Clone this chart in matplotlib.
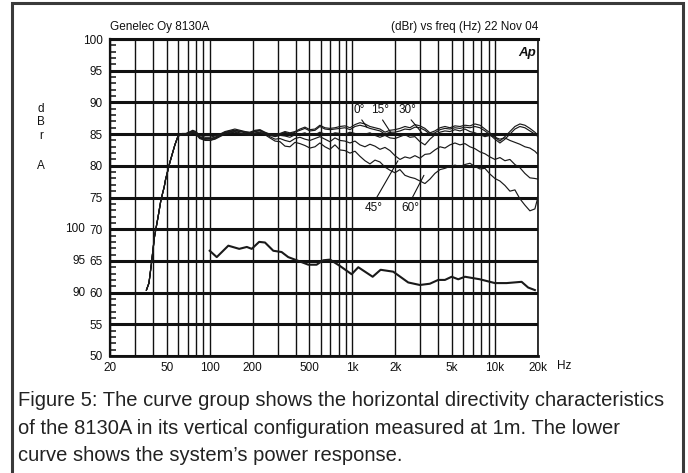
import matplotlib
matplotlib.use('Agg')
import matplotlib.pyplot as plt
from matplotlib.patches import Rectangle

plt.rcParams['font.family'] = ['Liberation Sans', 'DejaVu Sans']

# ---------------- data ----------------
freq = [36, 37.5, 39, 41, 43.5, 45.5, 48, 49, 52.5, 57,
        60, 64, 68, 73, 76, 80, 85, 93, 100, 109,
        118, 128, 139, 150, 163, 177, 191, 208, 225,
        244, 264, 287, 311, 337, 365, 396, 429, 465, 504,
        547, 592, 642, 696, 755, 818, 887, 962, 1043, 1130,
        1225, 1328, 1440, 1561, 1692, 1834, 1988, 2155, 2336, 2532,
        2745, 2975, 3225, 3496, 3790, 4110, 4455, 4830, 5236, 5676,
        6152, 6669, 7229, 7835, 8493, 9206, 9980, 10818, 11726, 12710,
        13777, 14934, 16188, 17547, 19020, 20000]

rolloff = [60.4, 61.5, 64.5, 68.8, 72.0, 74.6, 76.7, 77.8, 80.5, 83.3, 84.7]

deg0 = rolloff + [85.1, 85.1, 85.4, 85.6, 85.4, 84.8, 84.5, 84.5, 84.7, 85.0, 85.4, 85.6, 85.8, 85.6, 85.4, 85.3, 85.6, 85.7,
                  85.3, 85.0, 84.9, 85.1, 85.4, 85.2, 85.4, 85.8, 86.1, 85.7,
                  85.8, 86.4, 86.0, 85.9, 86.0, 86.2, 86.3, 86.0, 86.5, 86.8,
                  86.6, 86.2, 86.0, 85.8, 85.3, 85.6, 85.7, 85.9, 86.2, 86.0,
                  86.5, 86.3, 85.9, 85.2, 85.5, 86.0, 86.2, 86.0, 86.3, 86.2,
                  86.4, 86.3, 86.6, 86.4, 85.8, 85.2, 84.5, 83.9, 84.6, 85.4,
                  86.2, 86.6, 86.4, 85.9, 85.3, 84.8]
deg15 = rolloff + [85.0, 85.0, 85.3, 85.5, 85.3, 84.6, 84.3, 84.3, 84.5, 84.9, 85.3, 85.5, 85.6, 85.5, 85.3, 85.2, 85.5, 85.6,
                   85.2, 84.9, 84.8, 85.0, 85.3, 85.0, 85.3, 85.6, 85.9, 85.5,
                   85.6, 86.2, 85.8, 85.7, 85.8, 85.9, 86.0, 85.7, 86.2, 86.4,
                   86.2, 85.9, 85.7, 85.5, 85.0, 85.3, 85.3, 85.5, 85.8, 85.7,
                   86.1, 86.0, 85.6, 85.0, 85.2, 85.7, 85.9, 85.8, 86.0, 85.9,
                   86.1, 86.0, 86.2, 86.0, 85.5, 84.9, 84.2, 83.6, 84.2, 85.0,
                   85.8, 86.2, 86.0, 85.5, 85.0, 84.6]
deg30 = rolloff + [84.9, 85.0, 85.2, 85.4, 85.2, 84.5, 84.2, 84.2, 84.4, 84.8, 85.2, 85.4, 85.5, 85.4, 85.2, 85.1, 85.4, 85.5,
                   85.1, 84.8, 84.6, 84.8, 84.7, 84.5, 84.9, 85.0, 85.2, 84.8,
                   84.9, 85.3, 85.0, 84.9, 85.2, 85.1, 85.0, 85.3, 85.1, 84.9,
                   85.0, 85.2, 84.8, 84.5, 84.8, 84.4, 84.3, 84.6, 84.9, 84.5,
                   84.6, 83.8, 83.3, 84.2, 84.9, 85.3, 85.5, 85.4, 85.7, 85.5,
                   85.8, 85.4, 85.2, 84.9, 84.6, 84.8, 84.5, 84.2, 84.4, 84.0,
                   83.7, 83.4, 83.0, 82.8, 82.3, 81.8]
deg45 = rolloff + [85.0, 84.9, 85.1, 85.3, 85.1, 84.4, 84.1, 84.0, 84.3, 84.7, 85.1, 85.3, 85.4, 85.2, 85.0, 84.9, 85.2, 85.3,
                   85.0, 84.6, 84.2, 84.3, 84.0, 83.8, 84.3, 84.5, 84.2, 84.0,
                   84.3, 84.6, 84.2, 83.8, 84.4, 84.0, 83.9, 83.6, 83.9, 83.3,
                   83.0, 83.4, 83.1, 82.6, 82.9, 82.4, 81.6, 81.0, 81.4, 81.2,
                   81.6, 81.2, 81.8, 81.9, 82.5, 83.0, 82.8, 83.3, 83.6, 83.3,
                   83.5, 83.0, 82.7, 82.2, 81.9, 81.4, 81.0, 81.3, 80.8, 81.0,
                   80.2, 79.7, 78.8, 78.1, 78.0, 77.9]
deg60 = rolloff + [84.9, 84.9, 85.0, 85.2, 85.0, 84.3, 84.0, 84.0, 84.2, 84.6, 85.0, 85.2, 85.3, 85.1, 84.9, 84.8, 85.1, 85.2,
                   84.9, 84.4, 83.9, 83.8, 83.1, 83.0, 83.7, 83.5, 83.2, 82.8,
                   83.0, 83.6, 83.0, 82.6, 83.3, 82.5, 82.4, 82.0, 82.3, 81.5,
                   80.8, 80.3, 80.9, 80.6, 79.8, 79.3, 78.9, 79.4, 78.5, 78.2,
                   78.0, 77.6, 77.2, 77.9, 78.8, 79.4, 79.6, 79.9, 80.1, 79.9,
                   80.2, 80.4, 79.9, 79.5, 79.6, 78.7, 78.0, 77.6, 76.9, 76.0,
                   76.2, 74.8, 73.8, 72.9, 73.2, 75.1]

power_freq = [100, 112, 135, 161, 182, 197, 222, 244, 279, 319, 355, 407, 491, 561, 625, 697,
              818, 988, 1100, 1387, 1577, 1933, 2462, 2972, 3492, 3996, 4452, 4966, 5521, 6152,
              7834, 9980, 12050, 15350, 17060, 19010]
power_db = [66.6, 65.6, 67.4, 66.9, 67.2, 66.9, 68.0, 67.9, 66.6, 66.4, 65.6, 65.1, 64.4, 64.4, 65.1, 65.2,
            64.2, 62.9, 64.0, 62.5, 63.6, 63.3, 61.6, 61.2, 61.4, 62.0, 62.0, 62.5, 62.1, 62.5,
            62.1, 61.5, 61.5, 61.7, 60.8, 60.4]

x_major = [20, 50, 100, 200, 500, 1000, 2000, 5000, 10000, 20000]
x_major_labels = ['20', '50', '100', '200', '500', '1k', '2k', '5k', '10k', '20k']
x_minor = [30, 40, 60, 70, 80, 90, 300, 400, 600, 700, 800, 900,
           3000, 4000, 6000, 7000, 8000, 9000]
y_major = [50, 55, 60, 65, 70, 75, 80, 85, 90, 95, 100]
power_scale_pos = [70, 65, 60]
power_scale_labels = ['100', '95', '90']

angle_labels = ['0°', '15°', '30°', '45°', '60°']
angle_text_pos = [(1112, 88.8), (1561, 88.8), (2450, 88.8), (1416, 73.3), (2530, 73.3)]
angle_point = [(1265, 86.1), (1863, 85.2), (3070, 85.2), (2086, 80.8), (3172, 78.5)]

caption_lines = ["Figure 5: The curve group shows the horizontal directivity characteristics",
                 "of the 8130A in its vertical configuration measured at 1m. The lower",
                 "curve shows the system\u2019s power response."]

# ---------------- figure ----------------
W, H = 688, 473
fig = plt.figure(figsize=(W / 100, H / 100), dpi=100)
fig.patch.set_facecolor('white')


def fx(px):
    return px / W


def fy(py):
    return 1 - py / H


ax = fig.add_axes([fx(110), fy(356), fx(538) - fx(110), fy(39) - fy(356)])
ax.set_xscale('log')
ax.set_xlim(20, 20000)
ax.set_ylim(50, 100)

ink = '#111111'
ax.set_xticks(x_major)
ax.set_xticklabels(x_major_labels)
ax.set_xticks(x_minor, minor=True)
ax.set_xticklabels([], minor=True)
ax.set_yticks(y_major)
ax.set_yticks(range(50, 101), minor=True)
ax.tick_params(axis='x', which='both', length=0, pad=4, labelsize=8.5, colors=ink)
ax.tick_params(axis='y', which='major', length=0, pad=5, labelsize=8.5, colors=ink)
ax.tick_params(axis='y', which='minor', direction='in', length=4, width=1.1, color=ink)
ax.tick_params(axis='y', which='both', right=False)

ax.grid(True, axis='x', which='both', color=ink, lw=1.0)
ax.grid(True, axis='y', which='major', color=ink, lw=2.2)
ax.set_axisbelow(True)
for s in ax.spines.values():
    s.set_color(ink)
ax.spines['left'].set_linewidth(1.6)
ax.spines['bottom'].set_linewidth(2.0)
ax.spines['top'].set_linewidth(2.2)
ax.spines['right'].set_linewidth(1.2)

for curve in [deg60, deg45, deg30, deg15, deg0]:
    ax.plot(freq, curve, color='#1a1a1a', lw=0.85, zorder=3)
ax.plot(power_freq, power_db, color='#1a1a1a', lw=1.5, zorder=3)

for lab, tpos, pt, top in zip(angle_labels, angle_text_pos, angle_point, [1, 1, 1, 0, 0]):
    ax.annotate(lab, xy=pt, xytext=tpos, fontsize=8.5, color=ink, ha='center', va='center',
                arrowprops=dict(arrowstyle='-', lw=0.8, color=ink, shrinkA=1, shrinkB=0,
                                relpos=(0.5, 0.0) if top else (0.5, 1.0)),
                zorder=4)

yt = ax.get_yaxis_transform()
for v, lab in zip(power_scale_pos, power_scale_labels):
    ax.text(-0.058, v, lab, transform=yt, ha='right', va='center', fontsize=8.5, color=ink)
for letter, py in zip(['d', 'B', 'r', 'A'], [109, 122, 136, 166]):
    fig.text(fx(41), fy(py), letter, ha='center', va='center', fontsize=8.5, color=ink)

fig.text(fx(110), fy(27), 'Genelec Oy 8130A', ha='left', va='center', fontsize=8.5, color=ink)
fig.text(fx(538), fy(27), '(dBr) vs freq (Hz) 22 Nov 04', ha='right', va='center', fontsize=8.5, color=ink)
ax.text(0.995, 0.955, 'Ap', transform=ax.transAxes, ha='right', va='center', fontsize=9.5,
        style='italic', weight='bold', color=ink)
fig.text(fx(557), fy(366), 'Hz', ha='left', va='center', fontsize=8.5, color=ink)

for line, py in zip(caption_lines, [400, 428, 455]):
    fig.text(fx(18), fy(py), line, ha='left', va='center', fontsize=14.5, color='#222222')

fig.add_artist(Rectangle((fx(12), -0.05), fx(683) - fx(12), fy(3) + 0.05,
                         transform=fig.transFigure, fill=False, lw=2.2,
                         ec='#3a3a3a', clip_on=False))

fig.savefig('out.png', dpi=100)
